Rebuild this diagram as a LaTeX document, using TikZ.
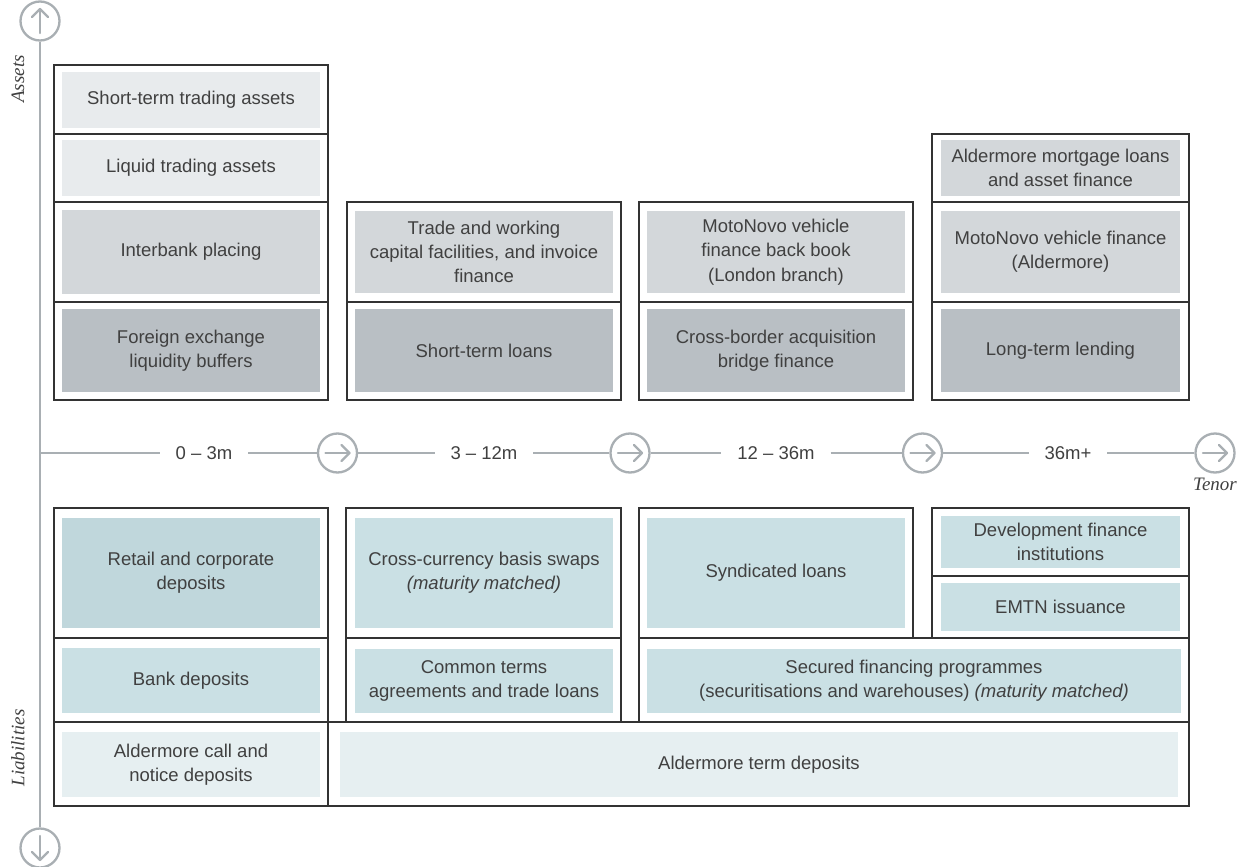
\documentclass[tikz,border=0pt]{standalone}
\usepackage{fontspec}
\setmainfont{Liberation Serif}
\setsansfont{Liberation Sans}
\usetikzlibrary{arrows.meta}

\definecolor{txt}{HTML}{404040}
\definecolor{axisgray}{HTML}{A9AFB3}
\definecolor{frame}{HTML}{333333}
\definecolor{aLight}{HTML}{E8EBED}
\definecolor{aMid}{HTML}{D3D7DA}
\definecolor{aDark}{HTML}{B9BFC4}
\definecolor{lDark}{HTML}{C0D7DC}
\definecolor{lMid}{HTML}{CAE0E4}
\definecolor{lLight}{HTML}{E6EFF1}

% filled text cell: name, colour, x1, y1, x2, y2, text
\newcommand\cellbox[7]{%
  \node[cell, fill=#2, minimum width={#5pt-#3pt}, minimum height={#6pt-#4pt}]
    (#1) at ({(#3+#5)/2},{(#4+#6)/2}) {#7};}

\begin{document}
\begin{tikzpicture}[x=1pt,y=-1pt,
  panel/.style={draw=frame, line width=1.2pt},
  cell/.style={inner sep=0pt, align=center, text=txt,
    font=\sffamily\fontsize{18.5}{24.3}\selectfont},
  tick/.style={inner xsep=16pt, inner ysep=2pt, outer sep=0pt, text=txt,
    font=\sffamily\fontsize{18.5}{22}\selectfont},
  sidelabel/.style={text=txt, inner sep=1pt, font=\rmfamily\itshape\fontsize{19}{22}\selectfont},
  circ/.style={circle, draw=axisgray, fill=white, line width=2.3pt,
    minimum size=39pt, inner sep=0pt},
  axisline/.style={draw=axisgray, line width=2.3pt},
  glyph/.style={draw=axisgray, line width=2.3pt, line cap=round, line join=round},
  arrowglyph/.pic={\draw[glyph] (-12,0) -- (12,0);
                   \draw[glyph] (4,-8) -- (12,0) -- (4,8);}
]
\useasboundingbox (0,0) rectangle (1240,867);
\fill[white] (0,0) rectangle (1240,867);

% ---------- vertical axis ----------
\node[circ] (up) at (40,21) {};
\node[circ] (down) at (40,848) {};
\draw[axisline] (up) -- (down);
\pic[rotate=90] at (up) {arrowglyph};
\pic[rotate=-90] at (down) {arrowglyph};
\node[sidelabel, rotate=90] (assets) at (18,79) {Assets};
\node[sidelabel, rotate=90] (liab) at (18,748) {Liabilities};

% ---------- tenor timeline ----------
\coordinate (t0) at (40,453);
\node[tick] (l1) at (204,453) {0 – 3m};
\node[circ] (c1) at (337.5,453) {};
\node[tick] (l2) at (484,453) {3 – 12m};
\node[circ] (c2) at (630,453) {};
\node[tick] (l3) at (776,453) {12 – 36m};
\node[circ] (c3) at (922.5,453) {};
\node[tick] (l4) at (1068,453) {36m+};
\node[circ] (c4) at (1215,453) {};
\draw[axisline] (t0) -- (l1) (l1) -- (c1) (c1) -- (l2) (l2) -- (c2)
  (c2) -- (l3) (l3) -- (c3) (c3) -- (l4) (l4) -- (c4);
\foreach \c in {c1,c2,c3,c4} \pic at (\c) {arrowglyph};
\node[sidelabel, anchor=base] (tenor) at (1215,490) {Tenor};

% ---------- assets panels ----------
\draw[panel] (54,65) rectangle (328,400);
\draw[panel] (54,134) -- (328,134) (54,202) -- (328,202) (54,302) -- (328,302);
\draw[panel] (347,202) rectangle (621,400);
\draw[panel] (347,302) -- (621,302);
\draw[panel] (639,202) rectangle (913,400);
\draw[panel] (639,302) -- (913,302);
\draw[panel] (932,134) rectangle (1189,400);
\draw[panel] (932,202) -- (1189,202) (932,302) -- (1189,302);

\cellbox{sta}{aLight}{62}{72}{320}{128}{Short-term trading assets}
\cellbox{lta}{aLight}{62}{140}{320}{196}{Liquid trading assets}
\cellbox{ibp}{aMid}{62}{210}{320}{294}{Interbank placing}
\cellbox{fxl}{aDark}{62}{309}{320}{392}{Foreign exchange\\liquidity buffers}

\cellbox{twc}{aMid}{355}{211}{613}{293}{Trade and working\\capital facilities, and invoice\\finance}
\cellbox{stl}{aDark}{355}{309}{613}{392}{Short-term loans}

\cellbox{mvb}{aMid}{647}{211}{905}{293}{MotoNovo vehicle\\finance back book\\(London branch)}
\cellbox{cba}{aDark}{647}{309}{905}{392}{Cross-border acquisition\\bridge finance}

\cellbox{amf}{aMid}{941}{140}{1180}{196}{Aldermore mortgage loans\\and asset finance}
\cellbox{mva}{aMid}{941}{211}{1180}{293}{MotoNovo vehicle finance\\(Aldermore)}
\cellbox{ltl}{aDark}{941}{309}{1180}{392}{Long-term lending}

% ---------- liabilities panels ----------
\draw[panel] (54,508) rectangle (328,722);
\draw[panel] (54,638) -- (328,638);
\draw[panel] (346,508) rectangle (621,722);
\draw[panel] (346,638) -- (621,638);
\draw[panel] (639,508) rectangle (913,638);
\draw[panel] (932,508) rectangle (1189,638);
\draw[panel] (932,576) -- (1189,576);
\draw[panel] (639,638) rectangle (1189,722);
\draw[panel] (54,722) rectangle (1189,806);
\draw[panel] (328,722) -- (328,806);

\cellbox{rcd}{lDark}{62}{518}{320}{628}{Retail and corporate\\deposits}
\cellbox{bkd}{lMid}{62}{648}{320}{713}{Bank deposits}
\cellbox{acn}{lLight}{62}{732}{320}{797}{Aldermore call and\\notice deposits}

\cellbox{ccs}{lMid}{355}{518}{613}{628}{Cross-currency basis swaps\\\textit{(maturity matched)}}
\cellbox{ctl}{lMid}{355}{649}{613}{713}{Common terms\\agreements and trade loans}

\cellbox{syn}{lMid}{647}{518}{905}{628}{Syndicated loans}

\cellbox{dfi}{lMid}{941}{516}{1180}{568}{Development finance\\institutions}
\cellbox{emt}{lMid}{941}{583}{1180}{631}{EMTN issuance}

\cellbox{sfp}{lMid}{647}{649}{1181}{713}{Secured financing programmes\\(securitisations and warehouses) \textit{(maturity matched)}}

\cellbox{atd}{lLight}{340}{732}{1178}{797}{Aldermore term deposits}
\end{tikzpicture}
\end{document}
